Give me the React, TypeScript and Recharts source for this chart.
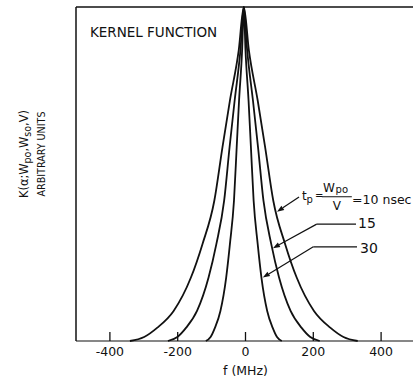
import { LineChart, Line, XAxis, YAxis, ReferenceLine, ReferenceDot } from 'recharts'

// heights (arbitrary units) shared by the three traces, left base -> peak -> right base
const K_LEVELS = [0, 0.012, 0.04, 0.09, 0.19, 0.29, 0.42, 0.58, 0.72, 0.87, 1, 0.87, 0.72, 0.58, 0.42, 0.29, 0.19, 0.09, 0.04, 0.012, 0]

// frequency (MHz) at each of those heights
const F_10NS = [-341, -299, -260, -212, -161, -127, -92, -68, -46, -20, -5, 10, 36, 58, 82, 117, 151, 202, 250, 289, 331]
const F_15NS = [-229, -201, -175, -143, -109, -86, -63, -47, -32, -15, -5, 5, 22, 37, 53, 76, 99, 133, 165, 191, 219]
const F_30NS = [-117, -103, -90, -74, -57, -46, -34, -26, -19, -10, -5, 0, 9, 16, 24, 36, 47, 64, 80, 93, 107]

const X_TICKS = [-400, -200, 0, 200, 400]

// annotation anchors in data units (f, K)
const TITLE_AT = { f: -459, k: 0.925 }
const PULSE_LABEL_AT = { f: 167, k: 0.422 }
const ARROW_10 = [{ x: 158, y: 0.431 }, { x: 93, y: 0.387 }]
const LEADER_15 = [{ x: 326, y: 0.35 }, { x: 210, y: 0.35 }]
const ARROW_15 = [{ x: 210, y: 0.35 }, { x: 81, y: 0.278 }]
const LABEL_15_AT = { f: 332, k: 0.353 }
const LEADER_30 = [{ x: 329, y: 0.282 }, { x: 200, y: 0.282 }]
const ARROW_30 = [{ x: 200, y: 0.282 }, { x: 51, y: 0.19 }]
const LABEL_30_AT = { f: 338, k: 0.278 }

const FONT = 'DejaVu Sans'
const INK = '#111'

const toPoints = (fs: number[]) => fs.map((f, i) => ({ f, k: K_LEVELS[i] }))

function XTick({ x, y, payload }: any) {
  return (
    <g>
      <line x1={x} y1={y} x2={x} y2={y - 9} stroke={INK} strokeWidth={1.3} />
      <text x={x} y={y + 15} textAnchor="middle" fontSize={12.5} fontFamily={FONT} fill={INK}>
        {payload.value}
      </text>
    </g>
  )
}

function XTitle({ viewBox }: any) {
  return (
    <text x={viewBox.x + viewBox.width / 2} y={viewBox.y + 34} textAnchor="middle" fontSize={12.5} fontFamily={FONT} fill={INK}>
      f (MHz)
    </text>
  )
}

function YTitle({ viewBox }: any) {
  const cy = viewBox.y + viewBox.height / 2 - 20
  return (
    <g fontFamily={FONT} fill={INK}>
      <text transform={`translate(${viewBox.x + 24} ${cy}) rotate(-90)`} textAnchor="middle" dominantBaseline="central" fontSize={12} textLength={88} lengthAdjust="spacingAndGlyphs">
        K(α;W<tspan dy={3} fontSize={10}>po</tspan><tspan dy={-3}>,W</tspan><tspan dy={3} fontSize={10}>so</tspan><tspan dy={-3}>,V)</tspan>
      </text>
      <text transform={`translate(${viewBox.x + 41} ${cy}) rotate(-90)`} textAnchor="middle" dominantBaseline="central" fontSize={11} textLength={85} lengthAdjust="spacingAndGlyphs">
        ARBITRARY UNITS
      </text>
    </g>
  )
}

function Arrow(props: any) {
  const { x1, y1, x2, y2 } = props
  const a = Math.atan2(y2 - y1, x2 - x1)
  const L = 7, W = 2.6
  const bx = x2 - L * Math.cos(a), by = y2 - L * Math.sin(a)
  const px = -Math.sin(a) * W, py = Math.cos(a) * W
  return (
    <g>
      <line x1={x1} y1={y1} x2={bx} y2={by} stroke={INK} strokeWidth={1.2} />
      <polygon points={`${x2},${y2} ${bx + px},${by + py} ${bx - px},${by - py}`} fill={INK} />
    </g>
  )
}

const Leader = (props: any) => <line x1={props.x1} y1={props.y1} x2={props.x2} y2={props.y2} stroke={INK} strokeWidth={1.2} />

const textAt = (content: string, size: number) => (p: any) => (
  <text x={p.cx} y={p.cy} fontSize={size} fontFamily={FONT} fill={INK} dominantBaseline="central">
    {content}
  </text>
)

function PulseLabel(p: any) {
  const { cx, cy } = p
  return (
    <g fontFamily={FONT} fill={INK}>
      <text x={cx} y={cy} fontSize={12}>t</text>
      <text x={cx + 4.5} y={cy + 2.5} fontSize={10}>p</text>
      <text x={cx + 13} y={cy - 1} fontSize={10}>=</text>
      <text x={cx + 21} y={cy - 8.3} fontSize={12}>W</text>
      <text x={cx + 33.5} y={cy - 7} fontSize={10}>po</text>
      <line x1={cx + 19.7} y1={cy - 3.3} x2={cx + 49.7} y2={cy - 3.3} stroke={INK} strokeWidth={1} />
      <text x={cx + 34.7} y={cy + 10} fontSize={12} textAnchor="middle">V</text>
      <text x={cx + 50} y={cy + 4} fontSize={12.5}>=10 nsec</text>
    </g>
  )
}

export default function App() {
  return (
    <div style={{ position: 'absolute', left: 0, top: 0, width: 413, height: 384, overflow: 'hidden', background: '#fff' }}>
      <LineChart width={420} height={384} margin={{ top: 7, right: 5, bottom: 0, left: 0 }}>
        <XAxis
          type="number"
          dataKey="f"
          domain={[-500, 500]}
          ticks={X_TICKS}
          allowDataOverflow
          height={43}
          tickSize={0}
          tickMargin={0}
          tickLine={false}
          tick={<XTick />}
          axisLine={{ stroke: INK, strokeWidth: 1.2 }}
          label={{ content: <XTitle /> }}
        />
        <YAxis
          type="number"
          domain={[0, 1]}
          width={76}
          tick={false}
          tickLine={false}
          axisLine={{ stroke: INK, strokeWidth: 1.5 }}
          label={{ content: <YTitle /> }}
        />
        <ReferenceLine y={1} stroke={INK} strokeWidth={1.4} />
        <Line data={toPoints(F_10NS)} dataKey="k" type="monotone" stroke={INK} strokeWidth={1.8} dot={false} isAnimationActive={false} />
        <Line data={toPoints(F_15NS)} dataKey="k" type="monotone" stroke={INK} strokeWidth={1.8} dot={false} isAnimationActive={false} />
        <Line data={toPoints(F_30NS)} dataKey="k" type="monotone" stroke={INK} strokeWidth={1.8} dot={false} isAnimationActive={false} />
        <ReferenceDot x={TITLE_AT.f} y={TITLE_AT.k} r={1} shape={textAt('KERNEL FUNCTION', 13.5)} />
        <ReferenceDot x={PULSE_LABEL_AT.f} y={PULSE_LABEL_AT.k} r={1} shape={PulseLabel} />
        <ReferenceLine segment={ARROW_10} shape={Arrow} />
        <ReferenceLine segment={LEADER_15} shape={Leader} />
        <ReferenceLine segment={ARROW_15} shape={Arrow} />
        <ReferenceDot x={LABEL_15_AT.f} y={LABEL_15_AT.k} r={1} shape={textAt('15', 14)} />
        <ReferenceLine segment={LEADER_30} shape={Leader} />
        <ReferenceLine segment={ARROW_30} shape={Arrow} />
        <ReferenceDot x={LABEL_30_AT.f} y={LABEL_30_AT.k} r={1} shape={textAt('30', 14)} />
      </LineChart>
    </div>
  )
}
